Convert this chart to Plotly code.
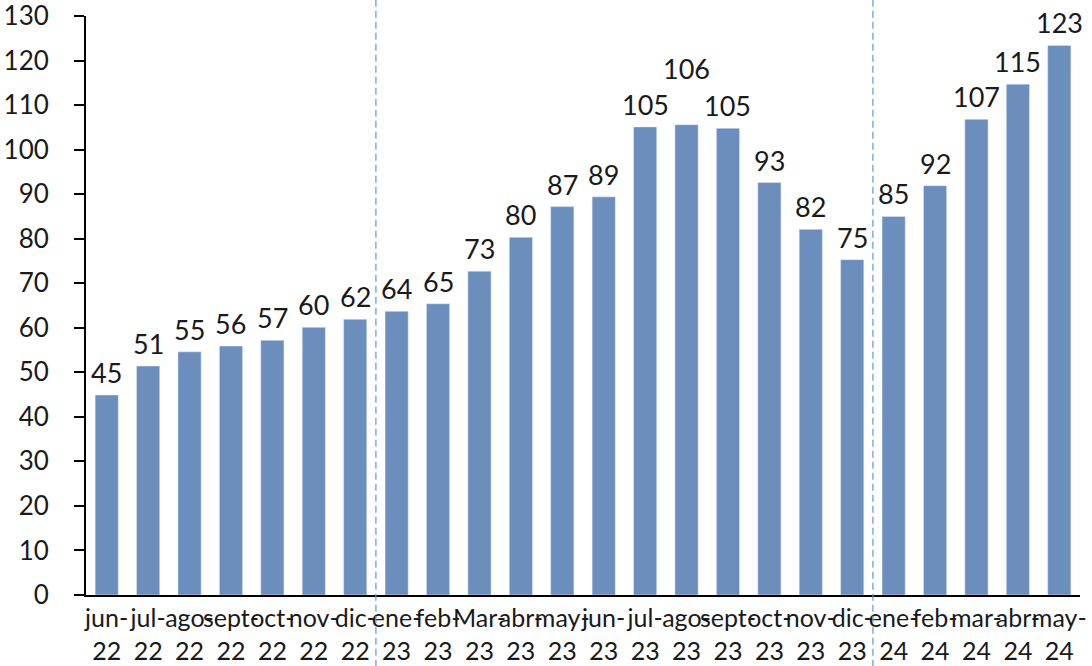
import plotly.graph_objects as go

# Data
months = ["jun-", "jul-", "ago-", "sept-", "oct-", "nov-", "dic-",
          "ene-", "feb-", "Mar-", "abr-", "may-", "jun-", "jul-", "ago-", "sept-", "oct-", "nov-", "dic-",
          "ene-", "feb-", "mar-", "abr-", "may-"]
years = ["22"] * 7 + ["23"] * 12 + ["24"] * 5
values = [44.9, 51.4, 54.6, 55.9, 57.2, 60.1, 61.9,
          63.7, 65.4, 72.7, 80.3, 87.2, 89.4, 105.1, 105.6, 104.8, 92.6, 82.1, 75.3,
          85.0, 91.9, 106.8, 114.7, 123.4]
labels = [f"{m}<br>{y}" for m, y in zip(months, years)]
x = list(range(len(values)))

BAR_COLOR = "#6C8EBD"
FONT = "Lato, Open Sans, sans-serif"

fig = go.Figure()
fig.add_trace(go.Bar(x=x, y=values, marker_color=BAR_COLOR, width=0.56))

# data labels (the ago-23 label sits higher in the original)
for i, v in enumerate(values):
    fig.add_annotation(
        x=i, y=v, text=f"{v:.0f}", showarrow=False,
        yanchor="bottom", yshift=38 if i == 14 else 4,
        font=dict(size=27, color="#1a1a1a", family=FONT),
    )

# dashed separators between years
for xs in [6.5, 18.5]:
    fig.add_shape(type="line", xref="x", yref="paper", x0=xs, x1=xs, y0=-0.2, y1=1.1,
                  line=dict(color="#5B9BD5", width=1.2, dash="7px,4px"))

fig.update_layout(
    width=1092, height=666,
    margin=dict(l=86, r=12, t=16, b=71),
    plot_bgcolor="white", paper_bgcolor="white",
    showlegend=False,
    font=dict(family=FONT, size=24, color="#1a1a1a"),
)
fig.update_xaxes(
    tickmode="array", tickvals=x, ticktext=labels, tickangle=0,
    range=[-0.5, len(values) - 0.5],
    showline=True, linecolor="black", linewidth=2,
    ticks="", showgrid=False, automargin=False,
    ticklabeloverflow="allow",
    tickfont=dict(size=25),
)
fig.update_yaxes(
    range=[0, 130], dtick=10, showgrid=False,
    showline=True, linecolor="black", linewidth=2,
    ticks="outside", ticklen=10, tickwidth=2, tickcolor="black",
    ticklabelstandoff=20, automargin=False,
    ticklabeloverflow="allow",
    tickfont=dict(size=26),
    zeroline=False,
)

# drop the default body margin so the figure fills the window
fig.write_html("out.html", config={"displayModeBar": False},
               post_script="document.body.style.margin = '0';")
